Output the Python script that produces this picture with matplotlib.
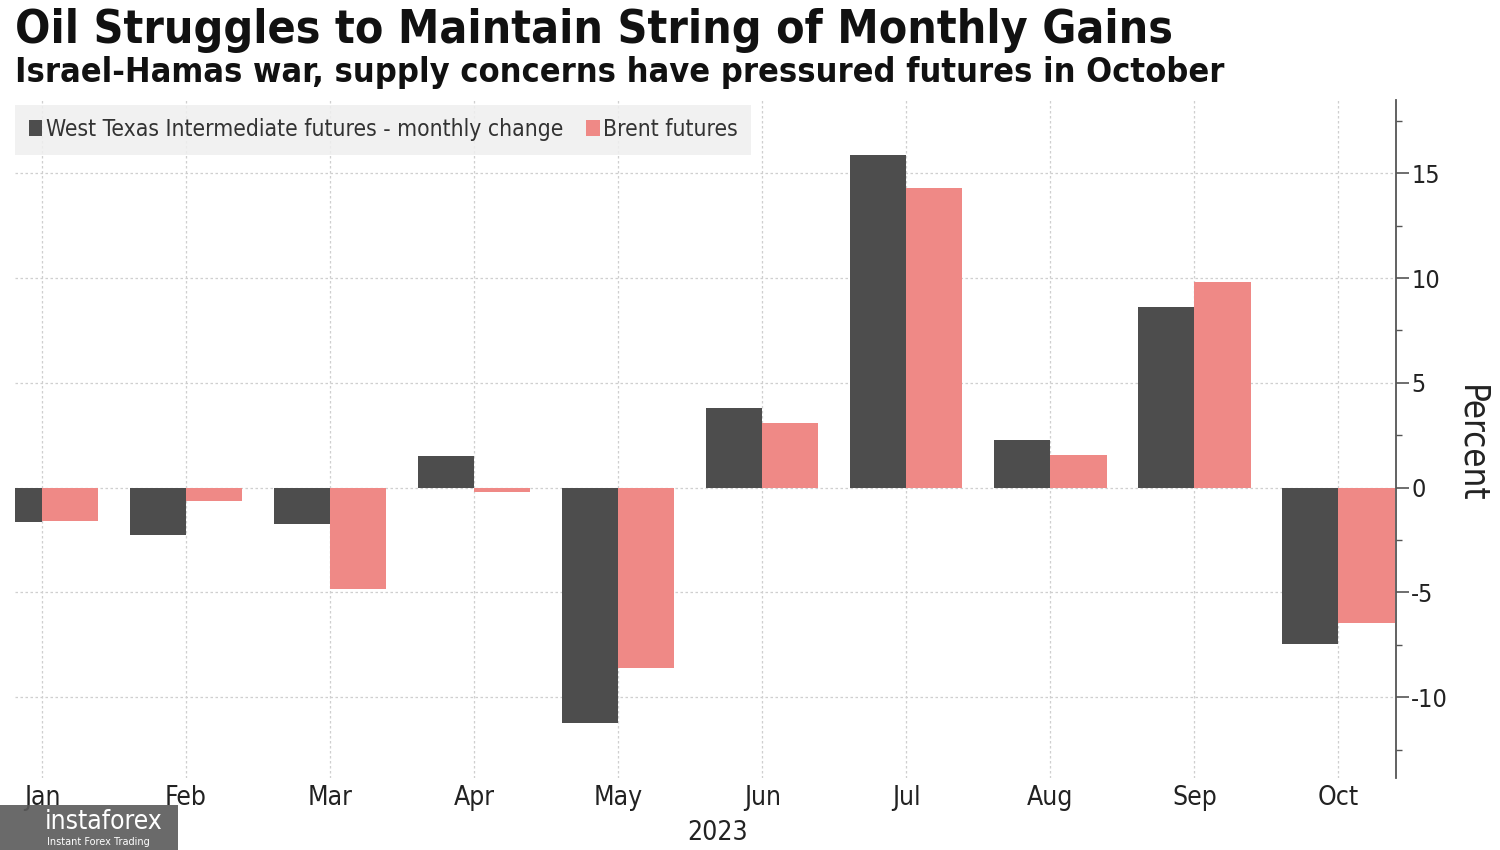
import matplotlib
matplotlib.use("Agg")
import matplotlib.pyplot as plt
import numpy as np
from matplotlib.patches import Rectangle
from matplotlib.ticker import MultipleLocator

months = ["Jan", "Feb", "Mar", "Apr", "May", "Jun", "Jul", "Aug", "Sep", "Oct"]
wti = [-1.65, -2.25, -1.72, 1.53, -11.25, 3.82, 15.86, 2.29, 8.6, -7.45]
brent = [-1.58, -0.62, -4.83, -0.19, -8.6, 3.1, 14.29, 1.58, 9.79, -6.45]
yticks = [-10, -5, 0, 5, 10, 15]
year_label = "2023"

title = "Oil Struggles to Maintain String of Monthly Gains"
subtitle = "Israel-Hamas war, supply concerns have pressured futures in October"

WTI_C = "#4d4d4d"
BRENT_C = "#ef8986"
FS = "condensed"

plt.rcParams['font.family'] = ['DejaVu Sans']

fig = plt.figure(figsize=(15, 8.5), dpi=100)
ax = fig.add_axes([0.01, 1 - 778 / 850, 0.9207, (778 - 100) / 850])

x = np.arange(len(months))
w = 0.39
ax.bar(x - w / 2, wti, width=w, color=WTI_C, label="West Texas Intermediate futures - monthly change", zorder=2)
ax.bar(x + w / 2, brent, width=w, color=BRENT_C, label="Brent futures", zorder=2)

ax.set_xlim(-0.1875, 9.40)
ax.set_ylim(-13.86, 18.5)

ax.yaxis.tick_right()
ax.yaxis.set_label_position("right")
ax.set_yticks(yticks)
ax.yaxis.set_minor_locator(MultipleLocator(2.5))
ax.set_yticklabels([str(t) for t in yticks], fontsize=18, color="#222222", fontstretch=FS)
ax.tick_params(axis="y", which="major", length=9, width=1.2, color="#555555", pad=2)
ax.tick_params(axis="y", which="minor", length=4, width=1.0, color="#555555")
ax.set_ylabel("Percent", fontsize=25, rotation=270, color="#222222", fontstretch=FS)
ax.yaxis.set_label_coords(1.067, 0.493)

ax.set_xticks(x)
ax.set_xticklabels(months, fontsize=19, color="#222222", fontstretch=FS)
ax.tick_params(axis="x", length=0, pad=5)
ax.set_xlabel(year_label, fontsize=19, color="#222222", fontstretch=FS)
ax.xaxis.set_label_coords((718 - 15) / 1381, -0.062)

for s in ["top", "left", "bottom"]:
    ax.spines[s].set_visible(False)
ax.spines["right"].set_color("#555555")
ax.spines["right"].set_linewidth(1.3)

ax.grid(True, which="major", linestyle=(0, (2, 2)), color="#cfcfcf", linewidth=0.9, zorder=0)
ax.set_axisbelow(True)

leg = ax.legend(loc="upper left", bbox_to_anchor=(0.0, 0.993), ncol=2, frameon=True,
                fancybox=False, facecolor="#efefef", edgecolor="none", framealpha=0.85,
                handlelength=0.6, handleheight=0.7, handletextpad=0.15, columnspacing=1.0,
                borderpad=0.6, borderaxespad=0.0,
                prop={"size": 16.4, "stretch": FS})
for t in leg.get_texts():
    t.set_color("#333333")

fig.text(15 / 1500, 1 - 8 / 850, title, fontsize=33.3, fontweight="bold", va="top", ha="left",
         color="#111111", fontstretch=FS)
fig.text(15 / 1500, 1 - 56 / 850, subtitle, fontsize=24.6, fontweight="bold", va="top", ha="left",
         color="#111111", fontstretch=FS)

# watermark
fig.patches.append(Rectangle((0, 0), 178 / 1500, 45 / 850, transform=fig.transFigure,
                             facecolor="#5a5a5a", edgecolor="none", alpha=0.9, zorder=5))
fig.text(45 / 1500, 1 - 822 / 850, "instaforex", fontsize=19, color="white", va="center",
         ha="left", zorder=6, fontstretch=FS)
fig.text(47 / 1500, 1 - 842 / 850, "Instant Forex Trading", fontsize=7, color="white",
         va="center", ha="left", zorder=6)

fig.savefig("out.png", dpi=100)
